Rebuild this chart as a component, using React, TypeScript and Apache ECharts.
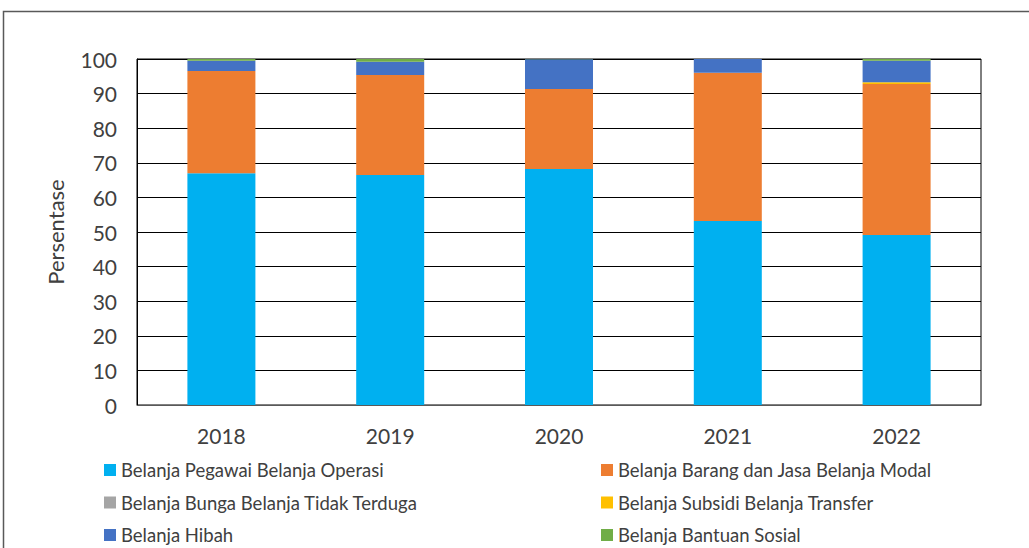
import React, { useEffect, useRef } from "react";
import * as echarts from "echarts";

const years = ["2018", "2019", "2020", "2021", "2022"];
const pegawai = [67.0, 66.5, 68.2, 53.2, 49.1];
const barang = [29.5, 28.9, 23.1, 42.8, 43.7];
const bunga = [0, 0, 0, 0, 0];
const subsidi = [0, 0, 0, 0, 0.5];
const hibah = [3.0, 3.8, 8.6, 4.0, 6.2];
const bantuan = [0.5, 0.8, 0.1, 0, 0.5];

const seriesDefs = [
  { name: "Belanja Pegawai Belanja Operasi", data: pegawai, color: "#00B0F0" },
  { name: "Belanja Barang dan Jasa Belanja Modal", data: barang, color: "#ED7D31" },
  { name: "Belanja Bunga Belanja Tidak Terduga", data: bunga, color: "#A5A5A5" },
  { name: "Belanja Subsidi Belanja Transfer", data: subsidi, color: "#FFC000" },
  { name: "Belanja Hibah", data: hibah, color: "#4472C4" },
  { name: "Belanja Bantuan Sosial", data: bantuan, color: "#70AD47" },
];

const FONT = "Lato, 'Open Sans', sans-serif";

export default function App() {
  const ref = useRef<HTMLDivElement>(null);
  useEffect(() => {
    if (!ref.current) return;
    const chart = echarts.init(ref.current, undefined, { renderer: "svg" });
    const legendText = { fontFamily: FONT, fontSize: 18.5, lineHeight: 20, color: "#404040" };
    chart.setOption({
      animation: false,
      graphic: [
        {
          type: "rect",
          shape: { x: 3.5, y: 11.5, width: 1060, height: 600 },
          style: { fill: "none", stroke: "#595959", lineWidth: 1.5 },
          silent: true,
        },
      ],
      grid: {
        left: 137,
        right: 48,
        top: 59,
        bottom: 143,
        show: true,
        borderColor: "#000",
        borderWidth: 1,
      },
      legend: [
        {
          orient: "vertical",
          left: 99,
          top: 455,
          height: 120,
          itemGap: 12.5,
          itemWidth: 12,
          itemHeight: 12,
          icon: "rect",
          textStyle: legendText,
          data: [seriesDefs[0].name, seriesDefs[2].name, seriesDefs[4].name],
        },
        {
          orient: "vertical",
          left: 596,
          top: 455,
          height: 120,
          itemGap: 12.5,
          itemWidth: 12,
          itemHeight: 12,
          icon: "rect",
          textStyle: legendText,
          data: [seriesDefs[1].name, seriesDefs[3].name, seriesDefs[5].name],
        },
      ],
      xAxis: {
        type: "category",
        data: years,
        axisLine: { lineStyle: { color: "#595959" } },
        axisTick: { show: false },
        axisLabel: { fontFamily: FONT, fontSize: 21, color: "#404040", margin: 20 },
      },
      yAxis: {
        type: "value",
        min: 0,
        max: 100,
        interval: 10,
        name: "Persentase",
        nameLocation: "middle",
        nameGap: 71,
        nameTextStyle: { fontFamily: FONT, fontSize: 22, color: "#404040" },
        axisLine: { show: true, lineStyle: { color: "#000" } },
        axisTick: { show: false },
        axisLabel: { fontFamily: FONT, fontSize: 21, color: "#404040", margin: 20 },
        splitLine: { lineStyle: { color: "#000", width: 1 } },
      },
      series: seriesDefs.map((s) => ({
        type: "bar",
        name: s.name,
        stack: "total",
        data: s.data,
        barWidth: 68,
        itemStyle: { color: s.color },
      })),
    });
    return () => chart.dispose();
  }, []);
  return (
    <div
      ref={ref}
      style={{ position: "absolute", left: 0, top: 0, width: 1029, height: 548 }}
    />
  );
}
